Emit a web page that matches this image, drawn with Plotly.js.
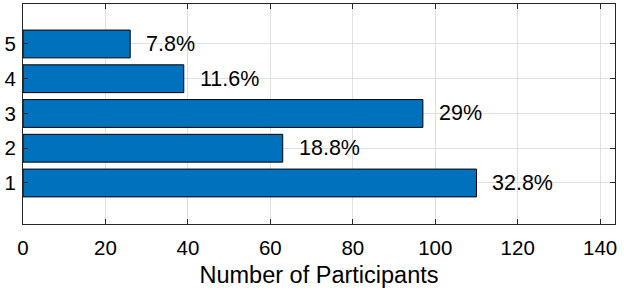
<!DOCTYPE html>
<html>
<head>
<meta charset="utf-8">
<script src="https://cdn.plot.ly/plotly-3.0.1.min.js"></script>
<style>html,body{margin:0;padding:0;background:#fff;}#chart{width:624px;height:290px;}</style>
</head>
<body>
<div id="chart"></div>
<script>
const categories = [1, 2, 3, 4, 5];
const participants = [110, 63, 97, 39, 26];
const percentLabels = ['32.8%', '18.8%', '29%', '11.6%', '7.8%'];
const xTicks = [0, 20, 40, 60, 80, 100, 120, 140];

const font = 'Liberation Sans, Arial, Helvetica, sans-serif';

const trace = {
  type: 'bar',
  orientation: 'h',
  x: participants,
  y: categories,
  width: 0.8,
  marker: {color: '#0072BD', line: {color: '#000000', width: 1}},
  hoverinfo: 'none'
};

const annotations = participants.map((v, i) => ({
  x: v, y: categories[i], xref: 'x', yref: 'y',
  text: percentLabels[i], showarrow: false,
  xanchor: 'left', yanchor: 'middle', xshift: 14,
  font: {family: font, size: 21.5, color: '#000'}
}));

const axisCommon = {
  showline: true, linecolor: '#262626', linewidth: 1,
  mirror: 'ticks', ticks: 'inside', ticklen: 5, tickcolor: '#262626',
  showgrid: true, gridcolor: '#dfdfdf', gridwidth: 1,
  zeroline: false,
  tickfont: {family: font, size: 20.5, color: '#000'}
};

const layout = {
  width: 624, height: 290,
  margin: {l: 23, r: 9, t: 4, b: 66},
  paper_bgcolor: '#fff', plot_bgcolor: '#fff',
  showlegend: false,
  xaxis: Object.assign({}, axisCommon, {
    range: [0, 143.6], tickvals: xTicks, ticktext: xTicks.map(String),
    ticklabelstandoff: 5,
    title: {text: 'Number of Participants', font: {family: font, size: 23.5, color: '#000'}, standoff: 8}
  }),
  yaxis: Object.assign({}, axisCommon, {
    range: [-0.18, 6.15], tickvals: categories, ticktext: categories.map(String),
    ticklabelstandoff: 2
  }),
  annotations: annotations
};

Plotly.newPlot('chart', [trace], layout, {displayModeBar: false, staticPlot: true});
</script>
</body>
</html>
